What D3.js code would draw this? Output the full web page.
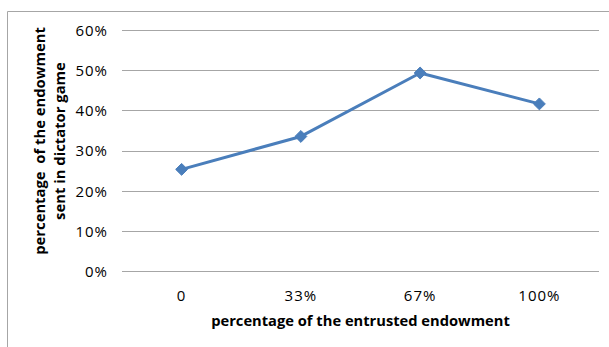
<!DOCTYPE html>
<html><head><meta charset="utf-8">
<script src="https://cdn.jsdelivr.net/npm/d3@7"></script>
<style>
body{margin:0;background:#fff;}
text{font-family:"Open Sans", Lato, sans-serif;fill:#000;}
</style></head>
<body>
<svg id="chart" width="609" height="347"></svg>
<script>
const categories = ["0", "33%", "67%", "100%"];
const values = [0.253, 0.335, 0.493, 0.416];
const yTicks = [0, 0.1, 0.2, 0.3, 0.4, 0.5, 0.6];
const xTitle = "percentage of the entrusted endowment";
const yTitleLines = ["percentage  of the endowment", "sent in dictator game"];

const svg = d3.select("#chart");
const W = 609, H = 347;
const m = {left:122, right:10, top:30, bottom:76};

// outer frame (top and left visible)
svg.append("path").attr("d", `M7.5,${H} V11.5 H${W}`).attr("fill","none").attr("stroke","#a6a6a6").attr("stroke-width",1);

const x = d3.scaleBand().domain(categories).range([m.left, W - m.right]);
const y = d3.scaleLinear().domain([0, 0.6]).range([H - m.bottom, m.top]);

// gridlines
svg.append("g").selectAll("line").data(yTicks).join("line")
  .attr("x1", m.left).attr("x2", W - m.right)
  .attr("y1", d => Math.round(y(d)) + 0.5).attr("y2", d => Math.round(y(d)) + 0.5)
  .attr("stroke", "#a6a6a6").attr("stroke-width", 1);

// y axis labels
const yAxis = d3.axisLeft(y).tickValues(yTicks).tickFormat(d3.format(".0%")).tickSize(0).tickPadding(0);
const gy = svg.append("g").attr("transform", `translate(${m.left - 14},0)`).call(yAxis);
gy.select(".domain").remove();
gy.selectAll("text").attr("font-size", 15).attr("font-family","Open Sans").attr("fill","#000")
  .attr("dy","0.36em").attr("letter-spacing","1px");

// x axis labels
const xAxis = d3.axisBottom(x).tickSize(0).tickPadding(0);
const gx = svg.append("g").attr("transform", `translate(0,${H - m.bottom + 19})`).call(xAxis);
gx.select(".domain").remove();
gx.selectAll("text").attr("font-size", 15).attr("font-family","Open Sans").attr("fill","#000")
  .attr("letter-spacing","1px");

// line
const line = d3.line().x((d,i) => x(categories[i]) + x.bandwidth()/2).y(d => y(d));
svg.append("path").datum(values).attr("d", line)
  .attr("fill","none").attr("stroke","#4a7ebb").attr("stroke-width",3).attr("stroke-linejoin","round");

// markers
svg.append("g").selectAll("path").data(values).join("path")
  .attr("transform", (d,i) => `translate(${x(categories[i]) + x.bandwidth()/2},${y(d)})`)
  .attr("d", d3.symbol().type(d3.symbolDiamond2).size(90))
  .attr("fill","#4a7ebb").attr("stroke","#4a7ebb").attr("stroke-width",1);

// x title
svg.append("text").attr("x", (m.left + W - m.right)/2).attr("y", 326)
  .attr("text-anchor","middle").attr("font-weight","bold").attr("font-size",14.7).text(xTitle);

// y title
const yt = svg.append("text").attr("transform", `translate(45,141) rotate(-90)`)
  .attr("text-anchor","middle").attr("font-weight","bold").attr("font-size",14.8);
yt.selectAll("tspan").data(yTitleLines).join("tspan")
  .attr("x",0).attr("dy",(d,i)=> i===0 ? 0 : 19.5).attr("xml:space","preserve").style("white-space","pre").text(d=>d);
</script>
</body></html>
